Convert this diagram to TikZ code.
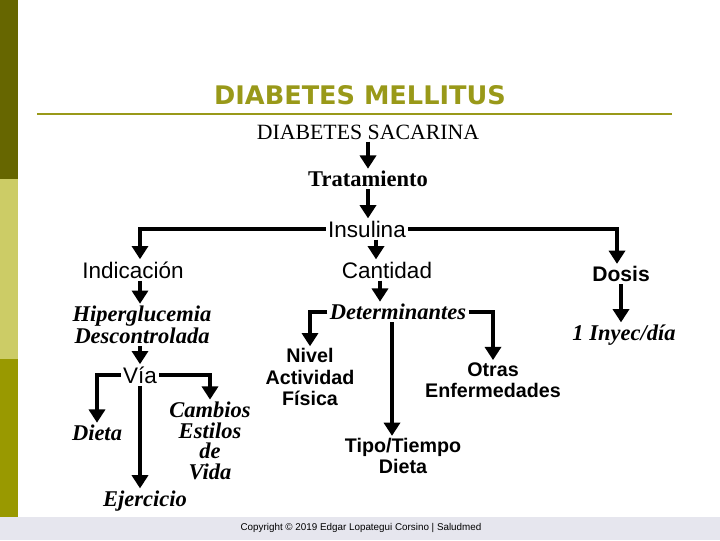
\documentclass[tikz,border=0pt]{standalone}
\usepackage{fontspec}
\setmainfont{Liberation Serif}
\setsansfont{Liberation Sans}
\newfontfamily\titlefont{DejaVu Sans}
\usetikzlibrary{arrows.meta, calc}
\definecolor{olivedark}{RGB}{102, 102, 0}
\definecolor{olivelight}{RGB}{204, 204, 102}
\definecolor{olivemid}{RGB}{153, 153, 0}
\definecolor{titleolive}{RGB}{153, 153, 25}
\definecolor{footgray}{RGB}{230, 230, 238}

\begin{document}
\begin{tikzpicture}[
    x=0.025cm, y=-0.025cm,
    arrow/.style={-{Triangle[width=0.4cm, length=0.33cm]}, line width=3.3pt, black},
    plainlbl/.style={font=\sffamily\fontsize{16}{18}\selectfont, inner sep=1.5pt},
    boldlbl/.style={font=\sffamily\bfseries\fontsize{14}{15}\selectfont, align=center, inner sep=1.5pt},
    itlbl/.style={font=\bfseries\itshape\fontsize{16}{13}\selectfont, align=center, inner sep=1.5pt},
    serlbl/.style={font=\fontsize{15.5}{17}\selectfont, inner sep=1.5pt}
]
    % Background and side bar
    \useasboundingbox (0,0) rectangle (720,540);
    \fill[white] (0,0) rectangle (720,540);
    \fill[olivedark] (0,0) rectangle (18,179);
    \fill[olivelight] (0,179) rectangle (18,359);
    \fill[olivemid] (0,359) rectangle (18,517);
    \fill[footgray] (0,517) rectangle (720,540);

    % Title
    \node (title) at (360,95) [font=\titlefont\bfseries\fontsize{18.2}{20}\selectfont, text=titleolive] {DIABETES MELLITUS};
    \draw[titleolive, line width=2.1pt] (37,114) -- (672,114);

    % Main chain
    \node (sac) [serlbl] at (368,132) {DIABETES SACARINA};
    \node (trat) [serlbl, font=\bfseries\fontsize{16}{18}\selectfont] at (368,179) {Tratamiento};
    \node (ins) [plainlbl] at (367,229) {Insulina};

    % Second level
    \node (ind) [plainlbl] at (133,270) {Indicación};
    \node (cant) [plainlbl] at (387,270) {Cantidad};
    \node (dos) [boldlbl, font=\sffamily\bfseries\fontsize{15}{16}\selectfont] at (621,274) {Dosis};

    % Third level
    \node (hip) [itlbl] at (142,325) {Hiperglucemia\\Descontrolada};
    \node (det) [itlbl] at (398,312) {Determinantes};
    \node (iny) [itlbl] at (624,335) {1 Inyec/día};

    % Via branch
    \node (via) [plainlbl] at (140,375) {Vía};
    \node (dieta) [itlbl] at (97,433) {Dieta};
    \node (cambios) [itlbl, font=\bfseries\itshape\fontsize{16}{14.7}\selectfont] at (210,441) {Cambios\\Estilos\\de\\Vida};
    \node (ejer) [itlbl] at (145,501) {Ejercicio};

    % Determinantes branch
    \node (nivel) [boldlbl] at (310,377) {Nivel\\Actividad\\Física};
    \node (otras) [boldlbl] at (493,380) {Otras\\Enfermedades};
    \node (tipo) [boldlbl] at (403,456) {Tipo/Tiempo\\Dieta};

    % Copyright
    \node (copy) at (361,528) [font=\sffamily\fontsize{7}{8}\selectfont] {Copyright © 2019 Edgar Lopategui Corsino | Saludmed};

    % Connections
    \draw[arrow] (sac.south) -- (sac.south |- trat.north);
    \draw[arrow] (trat.south) -- (trat.south |- ins.north);
    \draw[arrow] (ins.west) -| ([xshift=0.175cm]ind.north);
    \draw[arrow] (ins.east) -| ([xshift=-0.1cm]dos.north);
    \draw[arrow] ([xshift=0.225cm]ins.south) -- ([xshift=0.225cm]ins.south |- cant.north);

    \draw[arrow] ([xshift=0.175cm]ind.south) -- ([xshift=0.175cm]ind.south |- hip.north);
    \draw[arrow] ([xshift=-0.175cm]cant.south) -- ([xshift=-0.175cm]cant.south |- det.north);
    \draw[arrow] (dos.south) -- (dos.south |- iny.north);

    \draw[arrow] (via.north |- hip.south) -- (via.north);
    \draw[arrow] (via.west) -| (dieta.north);
    \draw[arrow] (via.east) -| (cambios.north);
    \draw[arrow] (via.south) -- (via.south |- ejer.north);

    \draw[arrow] (det.west) -| (nivel.north);
    \draw[arrow] (det.east) -| (otras.north);
    \draw[arrow] ([xshift=-0.15cm]det.south) -- ([xshift=-0.15cm]det.south |- tipo.north);
\end{tikzpicture}
\end{document}
